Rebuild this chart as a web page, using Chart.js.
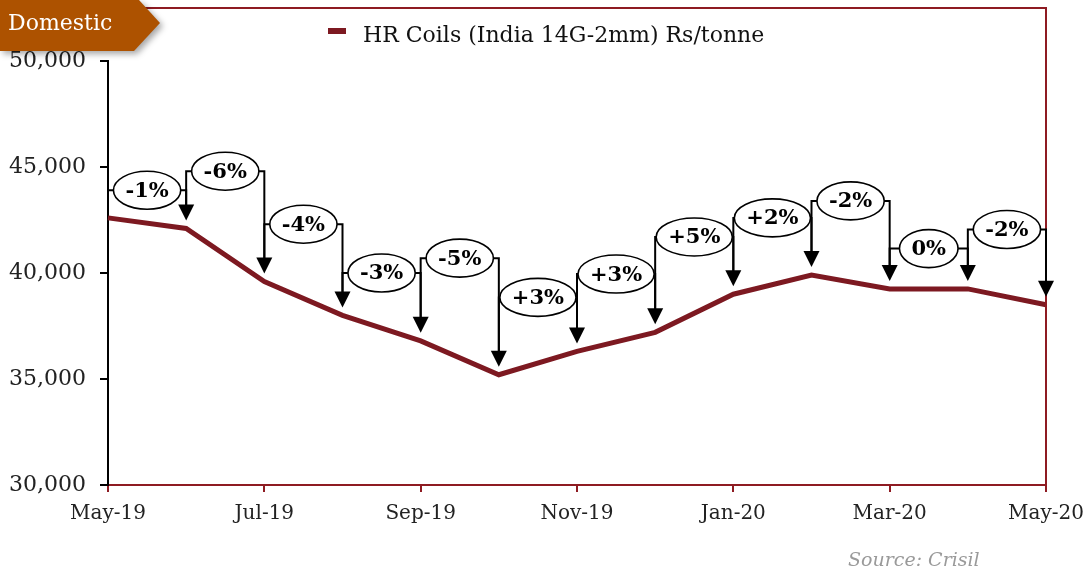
<!DOCTYPE html>
<html>
<head>
<meta charset="utf-8">
<script src="https://cdn.jsdelivr.net/npm/chart.js@4"></script>
<style>
  html, body { margin: 0; padding: 0; background: #fff; }
  #wrap { width: 1088px; height: 573px; position: relative; }
</style>
</head>
<body>
<div id="wrap"><canvas id="hrChart" width="1088" height="573"></canvas></div>
<script>
const months = ['May-19', 'Jun-19', 'Jul-19', 'Aug-19', 'Sep-19', 'Oct-19', 'Nov-19',
                'Dec-19', 'Jan-20', 'Feb-20', 'Mar-20', 'Apr-20', 'May-20'];
const prices = [42600, 42100, 39600, 38000, 36800, 35200, 36300,
                37200, 39000, 39900, 39250, 39250, 38500];
const changes = ['-1%', '-6%', '-4%', '-3%', '-5%', '+3%', '+3%', '+5%', '+2%', '-2%', '0%', '-2%'];
// height of each change bracket, in Rs/tonne
const bracketLevels = [43900, 44800, 42300, 40000, 40700, 38850, 39950, 41700, 42600, 43400, 41150, 42050];
const seriesName = 'HR Coils (India 14G-2mm) Rs/tonne';

const lineColor = '#7d1921';
const frameColor = '#8e1b22';
const serif = "'DejaVu Serif', 'Liberation Serif', serif";

const extras = {
    id: 'extras',
    afterDatasetsDraw(chart) {
        const ctx = chart.ctx;
        const area = chart.chartArea;
        const xs = chart.scales.x;
        const ys = chart.scales.y;

        // frame top and right
        ctx.save();
        ctx.strokeStyle = frameColor;
        ctx.lineWidth = 2;
        ctx.beginPath();
        ctx.moveTo(area.left, 8);
        ctx.lineTo(area.right, 8);
        ctx.lineTo(area.right, area.bottom);
        ctx.stroke();
        ctx.restore();

        // change brackets with arrows and oval labels
        ctx.save();
        ctx.strokeStyle = '#000';
        ctx.fillStyle = '#000';
        ctx.lineWidth = 2;
        for (let k = 0; k < changes.length; k++) {
            const x0 = xs.getPixelForValue(k);
            const x1 = xs.getPixelForValue(k + 1);
            const h = ys.getPixelForValue(bracketLevels[k]);
            const tipLeft = ys.getPixelForValue(prices[k]) - 8;
            const tip = ys.getPixelForValue(prices[k + 1]) - 8;

            ctx.beginPath();
            if (k > 0) {
                ctx.moveTo(x0, tipLeft - 14);
                ctx.lineTo(x0, h);
            } else {
                ctx.moveTo(x0, h);
            }
            ctx.lineTo(x1, h);
            ctx.lineTo(x1, tip - 14);
            ctx.stroke();

            ctx.beginPath();
            ctx.moveTo(x1, tip);
            ctx.lineTo(x1 - 8, tip - 16);
            ctx.lineTo(x1 + 8, tip - 16);
            ctx.closePath();
            ctx.fill();
        }
        ctx.font = 'bold 21px ' + serif;
        ctx.textAlign = 'center';
        ctx.textBaseline = 'middle';
        for (let k = 0; k < changes.length; k++) {
            const cx = (xs.getPixelForValue(k) + xs.getPixelForValue(k + 1)) / 2;
            const cy = ys.getPixelForValue(bracketLevels[k]);
            const rx = ctx.measureText(changes[k]).width / 2 + 12;
            ctx.beginPath();
            ctx.ellipse(cx, cy, rx, 19, 0, 0, Math.PI * 2);
            ctx.fillStyle = '#fff';
            ctx.fill();
            ctx.lineWidth = 1.6;
            ctx.stroke();
            ctx.fillStyle = '#000';
            ctx.fillText(changes[k], cx, cy + 1);
        }
        ctx.restore();

        // legend
        ctx.save();
        ctx.fillStyle = lineColor;
        ctx.fillRect(328, 28, 18, 6);
        ctx.fillStyle = '#111';
        ctx.font = '22px ' + serif;
        ctx.textBaseline = 'middle';
        ctx.fillText(seriesName, 363, 36);
        ctx.restore();

        // Domestic tag
        ctx.save();
        ctx.shadowColor = 'rgba(0,0,0,0.35)';
        ctx.shadowBlur = 6;
        ctx.shadowOffsetX = 3;
        ctx.shadowOffsetY = 3;
        ctx.fillStyle = '#ad5200';
        ctx.beginPath();
        ctx.moveTo(0, 0);
        ctx.lineTo(139, 0);
        ctx.lineTo(160, 23);
        ctx.lineTo(134, 51);
        ctx.lineTo(0, 51);
        ctx.closePath();
        ctx.fill();
        ctx.shadowColor = 'transparent';
        ctx.fillStyle = '#fff';
        ctx.font = '22px ' + serif;
        ctx.textBaseline = 'middle';
        ctx.fillText('Domestic', 8, 24);
        ctx.restore();

        // source
        ctx.save();
        ctx.fillStyle = '#9a9a9a';
        ctx.font = 'italic 19px ' + serif;
        ctx.textBaseline = 'middle';
        ctx.fillText('Source: Crisil', 848, 561);
        ctx.restore();
    }
};

new Chart(document.getElementById('hrChart').getContext('2d'), {
    type: 'line',
    data: {
        labels: months,
        datasets: [{
            label: seriesName,
            data: prices,
            borderColor: lineColor,
            borderWidth: 5,
            pointRadius: 0,
            tension: 0,
            fill: false
        }]
    },
    options: {
        responsive: false,
        animation: false,
        layout: { padding: { top: 61, right: 42, left: 0, bottom: 0 } },
        plugins: {
            legend: { display: false },
            tooltip: { enabled: false }
        },
        scales: {
            x: {
                offset: false,
                afterFit: s => { s.height = 88; s.paddingLeft = 0; s.paddingRight = 0; },
                grid: {
                    drawOnChartArea: false,
                    tickLength: 7,
                    color: c => (c.index % 2 === 0 ? frameColor : 'transparent'),
                    lineWidth: 2
                },
                border: { color: frameColor, width: 2 },
                ticks: {
                    autoSkip: false,
                    maxRotation: 0,
                    padding: 10,
                    color: '#222',
                    font: { family: serif, size: 20 },
                    callback: (v, i) => (i % 2 === 0 ? months[i] : '')
                }
            },
            y: {
                min: 30000,
                max: 50000,
                afterFit: s => { s.width = 108; },
                grid: {
                    drawOnChartArea: false,
                    tickLength: 8,
                    color: '#000',
                    lineWidth: 2
                },
                border: { color: '#000', width: 2 },
                ticks: {
                    stepSize: 5000,
                    padding: 14,
                    color: '#222',
                    font: { family: serif, size: 22 },
                    callback: v => v.toLocaleString('en-US')
                }
            }
        }
    },
    plugins: [extras]
});
</script>
</body>
</html>
